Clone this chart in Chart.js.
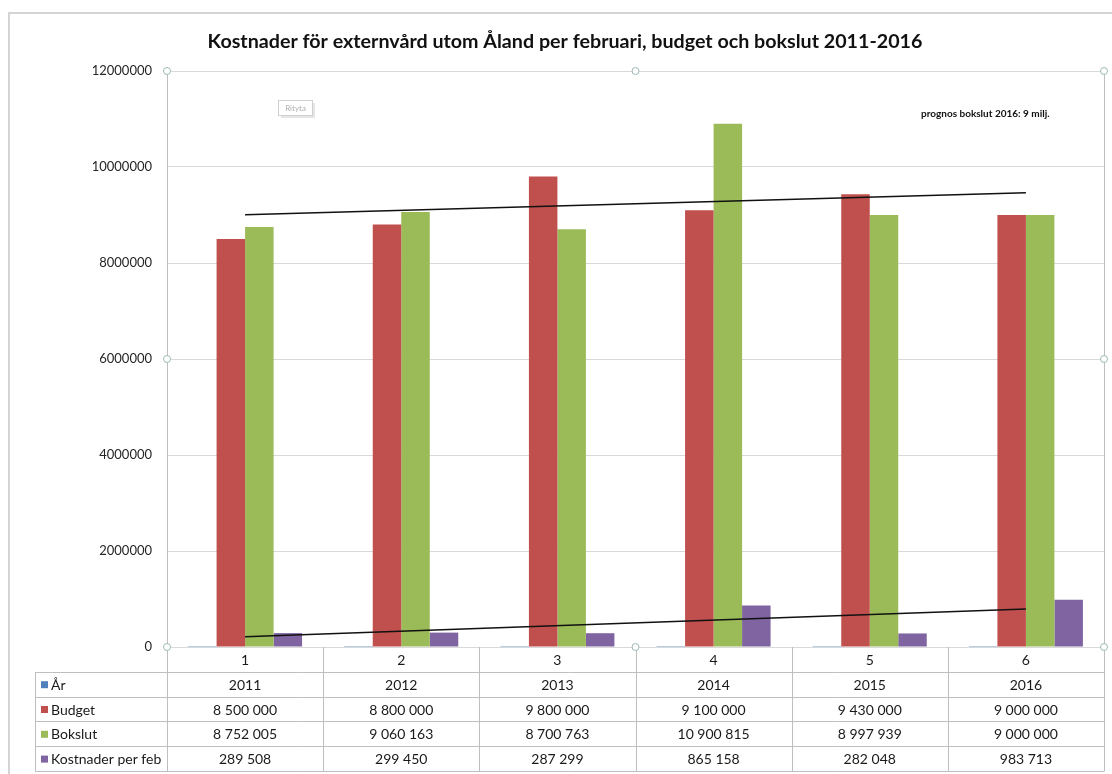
<!DOCTYPE html>
<html><head><meta charset="utf-8">
<script src="https://cdn.jsdelivr.net/npm/chart.js@4"></script>
<style>html,body{margin:0;padding:0;background:#fff;overflow:hidden}#wrap{position:relative;width:1112px;height:774px}</style>
</head><body><div id="wrap"><canvas id="c" width="1112" height="774"></canvas></div>
<script>
// ---- data ----
const categories = ['1', '2', '3', '4', '5', '6'];
const years = [2011, 2012, 2013, 2014, 2015, 2016];
const budget = [8500000, 8800000, 9800000, 9100000, 9430000, 9000000];
const bokslut = [8752005, 9060163, 8700763, 10900815, 8997939, 9000000];
const kostnaderFeb = [289508, 299450, 287299, 865158, 282048, 983713];
const trendBokslut = [9005000, null, null, null, null, 9465000];
const trendKostnader = [215000, null, null, null, null, 790000];
const seriesNames = ['År', 'Budget', 'Bokslut', 'Kostnader per feb'];
const titleText = 'Kostnader för externvård utom Åland per februari, budget och bokslut 2011-2016';
const noteText = 'prognos bokslut 2016: 9 milj.';
const yMax = 12000000, yStep = 2000000;

const colors = ['#4F81BD', '#C0504D', '#9BBB59', '#8064A2'];
const FONT = 'Lato, "Open Sans", sans-serif';

function fmt(n) { return String(n).replace(/\B(?=(\d{3})+(?!\d))/g, ' '); }

const tablePlugin = {
  id: 'tablePlugin',
  beforeDraw(chart) {
    const ctx = chart.ctx;
    ctx.save();
    ctx.fillStyle = '#fff';
    ctx.fillRect(0, 0, chart.width, chart.height);
    // outer frame
    ctx.strokeStyle = '#d4d4d4';
    ctx.lineWidth = 2;
    ctx.strokeRect(9, 13, 1300, 900);
    ctx.restore();
  },
  afterDraw(chart) {
    const ctx = chart.ctx;
    const xs = chart.scales.x;
    const ca = chart.chartArea;
    const n = categories.length;
    const colW = (ca.right - ca.left) / n;
    const rowH = 24.8;
    const top = ca.bottom;
    const tblLeft = 35;
    const rows = [years.map(String), budget.map(fmt), bokslut.map(fmt), kostnaderFeb.map(fmt)];
    ctx.save();
    // title
    ctx.fillStyle = '#111';
    ctx.textAlign = 'center';
    ctx.textBaseline = 'middle';
    let ts = 19;
    ctx.font = 'bold ' + ts + 'px ' + FONT;
    const tw = ctx.measureText(titleText).width;
    ts = ts * 715 / tw;
    ctx.font = 'bold ' + ts.toFixed(2) + 'px ' + FONT;
    ctx.fillText(titleText, 565, 42);
    // note
    ctx.font = 'bold 10px ' + FONT;
    ctx.textAlign = 'left';
    ctx.fillText(noteText, 921, 114);
    // "Rityta" tooltip artifact
    ctx.fillStyle = '#e6e6e6';
    ctx.fillRect(281, 103, 34, 15);
    ctx.fillStyle = '#fff';
    ctx.strokeStyle = '#d0d0d0';
    ctx.lineWidth = 1;
    ctx.fillRect(278.5, 100.5, 34, 15);
    ctx.strokeRect(278.5, 100.5, 34, 15);
    ctx.fillStyle = '#b0b0b0';
    ctx.font = '8px ' + FONT;
    ctx.textAlign = 'center';
    ctx.fillText('Rityta', 295.5, 108.5);

    // right plot border
    ctx.strokeStyle = '#bfbfbf';
    ctx.lineWidth = 1;
    ctx.beginPath();
    ctx.moveTo(ca.right + 0.5, ca.top);
    ctx.lineTo(ca.right + 0.5, top + rowH * 5);
    ctx.stroke();

    // table grid
    ctx.beginPath();
    for (let r = 1; r <= 5; r++) {
      const y = Math.round(top + r * rowH) + 0.5;
      ctx.moveTo(tblLeft, y); ctx.lineTo(ca.right, y);
    }
    ctx.moveTo(tblLeft + 0.5, Math.round(top + rowH) + 0.5);
    ctx.lineTo(tblLeft + 0.5, Math.round(top + rowH * 5) + 0.5);
    for (let k = 0; k <= n; k++) {
      const x = Math.round(ca.left + k * colW) + 0.5;
      ctx.moveTo(x, top); ctx.lineTo(x, Math.round(top + rowH * 5) + 0.5);
    }
    ctx.stroke();

    // table text
    ctx.fillStyle = '#1a1a1a';
    ctx.font = '14px ' + FONT;
    ctx.textAlign = 'center';
    ctx.textBaseline = 'middle';
    for (let i = 0; i < n; i++) {
      const cx = xs.getPixelForValue(i);
      ctx.fillText(categories[i], cx, top + rowH * 0.5 + 1);
      for (let r = 0; r < rows.length; r++) {
        ctx.fillText(rows[r][i], cx, top + rowH * (r + 1.5) + 1);
      }
    }
    ctx.textAlign = 'left';
    for (let r = 0; r < seriesNames.length; r++) {
      const cy = top + rowH * (r + 1.5);
      ctx.fillStyle = colors[r];
      ctx.fillRect(41, cy - 3, 7, 7);
      ctx.fillStyle = '#1a1a1a';
      ctx.fillText(seriesNames[r], 51, cy + 1);
    }

    // selection handles
    const hx = [ca.left, (ca.left + ca.right) / 2, ca.right];
    const hy = [ca.top, (ca.top + ca.bottom) / 2, ca.bottom];
    ctx.strokeStyle = '#9fb8b8';
    ctx.fillStyle = '#fff';
    ctx.lineWidth = 1;
    for (let a = 0; a < 3; a++) for (let b = 0; b < 3; b++) {
      if (a === 1 && b === 1) continue;
      ctx.beginPath();
      ctx.arc(hx[a], hy[b], 3.5, 0, Math.PI * 2);
      ctx.fill(); ctx.stroke();
    }
    ctx.restore();
  }
};

const barCommon = { type: 'bar', categoryPercentage: 0.73, barPercentage: 1.0, order: 2, borderWidth: 0 };

new Chart(document.getElementById('c'), {
  data: {
    labels: categories,
    datasets: [
      Object.assign({ label: seriesNames[0], data: years, backgroundColor: colors[0] }, barCommon),
      Object.assign({ label: seriesNames[1], data: budget, backgroundColor: colors[1] }, barCommon),
      Object.assign({ label: seriesNames[2], data: bokslut, backgroundColor: colors[2] }, barCommon),
      Object.assign({ label: seriesNames[3], data: kostnaderFeb, backgroundColor: colors[3] }, barCommon),
      { type: 'line', label: 'Trend Bokslut', data: trendBokslut, spanGaps: true, borderColor: '#111', borderWidth: 1.5, pointRadius: 0, order: 0 },
      { type: 'line', label: 'Trend Kostnader', data: trendKostnader, spanGaps: true, borderColor: '#111', borderWidth: 1.5, pointRadius: 0, order: 0 }
    ]
  },
  options: {
    responsive: false,
    animation: false,
    devicePixelRatio: 1,
    layout: { padding: { left: 0, top: 71, right: 8, bottom: 127 } },
    plugins: { legend: { display: false }, title: { display: false }, tooltip: { enabled: false } },
    scales: {
      x: { display: false, offset: true },
      y: {
        min: 0, max: yMax,
        afterFit(s) { s.width = 167; s.paddingTop = 0; s.paddingBottom = 0; },
        afterBuildTicks(s) { const t = []; for (let v = 0; v <= yMax; v += yStep) t.push({ value: v }); s.ticks = t; },
        ticks: { stepSize: yStep, padding: 15, color: '#262626', font: { family: FONT, size: 13 }, callback: v => String(v) },
        grid: { color: '#d9d9d9', drawTicks: false },
        border: { color: '#bfbfbf' }
      }
    }
  },
  plugins: [tablePlugin]
});
</script>
</body></html>
